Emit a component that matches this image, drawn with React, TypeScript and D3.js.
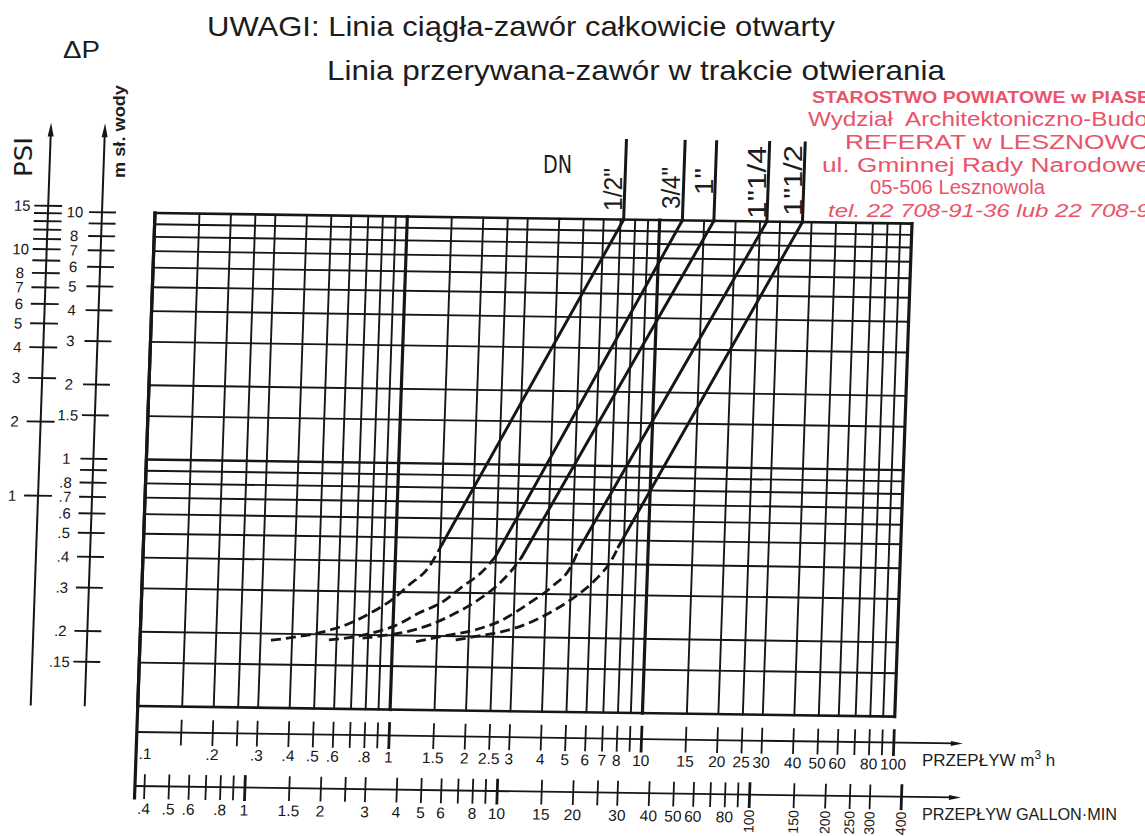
import React from "react";
import * as d3 from "d3";

// the sheet was scanned a little askew; the chart group is sheared to match
const SKEW_X = 0.035;
const SKEW_Y = 0.014;

// plot frame (unskewed coordinates)
const L = 155;
const R = 912;
const T = 213;
const B = 706;

const PSI_TO_M = 0.70307; // 1 psi in m of water
const GAL_TO_M3H = 0.2728; // 1 imperial gallon/min in m3/h

// vertical grid, m3/h
const gridFlow = [
  0.1, 0.15, 0.2, 0.25, 0.3, 0.4, 0.5, 0.6, 0.7, 0.8, 0.9,
  1, 1.5, 2, 2.5, 3, 4, 5, 6, 7, 8, 9,
  10, 15, 20, 25, 30, 40, 50, 60, 70, 80, 90, 100,
];
const boldFlow = [0.1, 1, 10, 100];
// horizontal grid, m sł. wody
const gridHead = [10, 9, 8, 7, 6, 5, 4, 3, 2, 1.5, 1, 0.9, 0.8, 0.7, 0.6, 0.5, 0.4, 0.3, 0.2, 0.15, 0.1];

const m3hLabels = [0.1, 0.2, 0.3, 0.4, 0.5, 0.6, 0.8, 1, 1.5, 2, 2.5, 3, 4, 5, 6, 7, 8, 10, 15, 20, 25, 30, 40, 50, 60, 80, 100];
const gpmTicks = [
  0.4, 0.5, 0.6, 0.7, 0.8, 0.9, 1, 1.5, 2, 2.5, 3, 4, 5, 6, 7, 8, 9,
  10, 15, 20, 25, 30, 40, 50, 60, 70, 80, 90, 100, 150, 200, 250, 300, 400,
];
const gpmBold = [1, 10, 100, 400];
const gpmLabels = [0.4, 0.5, 0.6, 0.8, 1, 1.5, 2, 3, 4, 5, 6, 8, 10, 15, 20, 30, 40, 50, 60, 80];
const gpmLabelsRot = [100, 150, 200, 250, 300, 400];

const psiTicks = [15, 14, 13, 12, 11, 10, 9, 8, 7, 6, 5, 4, 3, 2, 1];
const psiLabels = [15, 10, 8, 7, 6, 5, 4, 3, 2, 1];
const headTicks = [10, 9, 8, 7, 6, 5, 4, 3, 2, 1.5, 1, 0.9, 0.8, 0.7, 0.6, 0.5, 0.4, 0.3, 0.2, 0.15];
const headLabels = [10, 8, 7, 6, 5, 4, 3, 2, 1.5, 1, 0.8, 0.7, 0.6, 0.5, 0.4, 0.3, 0.2, 0.15];

// DN series: [m3/h, m sł. wody]
const dnNames = ['1/2"', '3/4"', '1"', '1"1/4', '1"1/2'];
const solid12 = [[1.53, 0.475], [7.2, 10]];
const solid34 = [[2.49, 0.423], [12.3, 10]];
const solid1 = [[3.17, 0.424], [16.4, 10]];
const solid114 = [[5.3, 0.455], [26.6, 10]];
const solid112 = [[7.62, 0.471], [36.8, 10]];

const dash12 = [[0.33, 0.188], [0.42, 0.195], [0.48, 0.2], [0.56, 0.208], [0.67, 0.222], [0.83, 0.249], [1.0, 0.283], [1.14, 0.32], [1.36, 0.38], [1.53, 0.475]];
const dash34 = [[0.56, 0.19], [0.72, 0.197], [0.86, 0.206], [1.03, 0.22], [1.26, 0.247], [1.56, 0.275], [1.86, 0.318], [2.22, 0.367], [2.49, 0.423]];
const dash1 = [[0.76, 0.194], [0.94, 0.2], [1.13, 0.207], [1.39, 0.221], [1.71, 0.244], [2.11, 0.277], [2.52, 0.319], [2.91, 0.374], [3.17, 0.424]];
const dash114 = [[1.24, 0.189], [1.67, 0.202], [2.13, 0.213], [2.7, 0.234], [3.42, 0.274], [4.21, 0.322], [5.01, 0.395], [5.3, 0.455]];
const dash112 = [[1.78, 0.193], [2.13, 0.2], [2.71, 0.21], [3.44, 0.228], [4.24, 0.255], [5.22, 0.294], [6.23, 0.344], [7.19, 0.416], [7.62, 0.471]];

const solids = [solid12, solid34, solid1, solid114, solid112];
const dashes = [dash12, dash34, dash1, dash114, dash112];

// where the rotated DN labels sit (page coordinates)
const dnLabelPos = [
  { cx: 613, bottom: 211, len: 43 },
  { cx: 671, bottom: 209, len: 42 },
  { cx: 704, bottom: 195, len: 27 },
  { cx: 757, bottom: 219, len: 73 },
  { cx: 793, bottom: 216, len: 71 },
];

// stamp lines, as far as they are visible on the sheet
const stampLines = [
  "STAROSTWO POWIATOWE w PIASE",
  "Wydział  Architektoniczno-Budo",
  "REFERAT w LESZNOWO",
  "ul. Gminnej Rady Narodowe",
  "05-506 Lesznowola",
  "tel. 22 708-91-36 lub 22 708-9",
];
const stampStyle = [
  { x: 812, y: 103, size: 16, len: 338, bold: true, italic: false },
  { x: 808, y: 126, size: 20, len: 340, bold: false, italic: false },
  { x: 845, y: 149, size: 21, len: 305, bold: false, italic: false },
  { x: 822, y: 172, size: 20, len: 328, bold: false, italic: false },
  { x: 870, y: 194, size: 20, len: 175, bold: false, italic: false },
  { x: 828, y: 217, size: 19, len: 322, bold: false, italic: true },
];

const FONT = "'Liberation Sans', Arial, Helvetica, sans-serif";
const NARROW = "'Liberation Sans Narrow', 'DejaVu Sans Condensed', 'Liberation Sans', sans-serif";
const INK = "#161616";
const STAMP = "#e8415a";

const fmt = (v: number) => (v < 1 ? String(v).slice(1) : String(v));

export default function App() {
  const x = d3.scaleLog().domain([0.1, 100]).range([L, R]);
  const y = d3.scaleLog().domain([0.1, 10]).range([B, T]);

  const straight = d3
    .line<number[]>()
    .x((d) => x(d[0]))
    .y((d) => y(d[1]));
  const curved = d3
    .line<number[]>()
    .x((d) => x(d[0]))
    .y((d) => y(d[1]))
    .curve(d3.curveMonotoneX);

  const skew = `matrix(1 ${SKEW_Y} ${-SKEW_X} 1 ${SKEW_X * T} ${-SKEW_Y * L})`;

  const psiX = 48;
  const headX = 102;
  const m3hY = 732;
  const gpmY = 786;
  const axisEnd = 981;

  return (
    <svg
      width={1145}
      height={836}
      style={{ position: "absolute", left: 0, top: 0, background: "#fff" }}
      fontFamily={FONT}
    >
      <rect width={1145} height={836} fill="#fff" />

      <g transform={skew} stroke={INK} fill="none" strokeLinecap="square">
        {/* grid */}
        {gridFlow.map((q) => (
          <line
            key={"v" + q}
            x1={x(q)}
            x2={x(q)}
            y1={T}
            y2={B}
            strokeWidth={boldFlow.includes(q) ? 3.2 : 1.9}
          />
        ))}
        {gridHead.map((h) => (
          <line
            key={"h" + h}
            x1={L}
            x2={R}
            y1={y(h)}
            y2={y(h)}
            strokeWidth={h === 10 || h === 0.1 ? 2.6 : h === 1 ? 2.4 : 1.9}
          />
        ))}
        <line x1={L} x2={L} y1={T} y2={798} strokeWidth={3.2} />

        {/* DN leader lines above the grid */}
        {solids.map((s, i) => (
          <line
            key={"dn" + i}
            x1={x(s[1][0])}
            x2={x(s[1][0])}
            y1={y(10)}
            y2={134}
            strokeWidth={3}
          />
        ))}

        {/* fully open (solid) and opening (dashed) */}
        {solids.map((s, i) => (
          <path key={"s" + i} d={straight(s) || ""} strokeWidth={3} />
        ))}
        {dashes.map((s, i) => (
          <path
            key={"d" + i}
            d={curved(s) || ""}
            strokeWidth={2.8}
            strokeDasharray="10 5"
            strokeLinecap="butt"
          />
        ))}

        {/* PSI axis */}
        <line x1={psiX} x2={psiX} y1={B} y2={134} strokeWidth={2} />
        <path d={`M${psiX},124 L${psiX - 3},138 L${psiX + 3},138 Z`} fill={INK} stroke="none" />
        {psiTicks.map((p) => (
          <line
            key={"pt" + p}
            x1={psiX - 13}
            x2={psiX + 13}
            y1={y(p * PSI_TO_M)}
            y2={y(p * PSI_TO_M)}
            strokeWidth={1.9}
          />
        ))}
        <g fill={INK} stroke="none" fontSize={15} textAnchor="middle">
          {psiLabels.map((p) => (
            <text key={"pl" + p} x={22} y={y(p * PSI_TO_M)} dy="0.36em">
              {p}
            </text>
          ))}
        </g>

        {/* m sł. wody axis */}
        <line x1={headX} x2={headX} y1={B} y2={134} strokeWidth={2} />
        <path d={`M${headX},124 L${headX - 3},138 L${headX + 3},138 Z`} fill={INK} stroke="none" />
        {headTicks.map((h) => (
          <line
            key={"ht" + h}
            x1={headX - 12}
            x2={headX + 13}
            y1={y(h)}
            y2={y(h)}
            strokeWidth={1.9}
          />
        ))}
        <g fill={INK} stroke="none" fontSize={15} textAnchor="middle">
          {headLabels.map((h) => (
            <text key={"hl" + h} x={75} y={y(h)} dy="0.36em">
              {fmt(h)}
            </text>
          ))}
        </g>

        {/* m3/h axis */}
        <line x1={L} x2={axisEnd - 8} y1={m3hY} y2={m3hY} strokeWidth={1.8} />
        <path d={`M${axisEnd},${m3hY} L${axisEnd - 12},${m3hY - 2.5} L${axisEnd - 12},${m3hY + 2.5} Z`} fill={INK} stroke="none" />
        {gridFlow.slice(1).map((q) => (
          <line
            key={"mt" + q}
            x1={x(q)}
            x2={x(q)}
            y1={m3hY - 12}
            y2={m3hY + 12}
            strokeWidth={boldFlow.includes(q) ? 2.8 : 1.8}
          />
        ))}
        <g fill={INK} stroke="none" fontSize={15.5} textAnchor="middle">
          {m3hLabels.map((q) => (
            <text key={"ml" + q} x={x(q) + (q === 0.1 ? 9 : 0)} y={759}>
              {fmt(q)}
            </text>
          ))}
        </g>

        {/* gallon/min axis */}
        <line x1={L} x2={axisEnd - 8} y1={gpmY} y2={gpmY} strokeWidth={1.8} />
        <path d={`M${axisEnd},${gpmY} L${axisEnd - 12},${gpmY - 2.5} L${axisEnd - 12},${gpmY + 2.5} Z`} fill={INK} stroke="none" />
        {gpmTicks.map((g) => (
          <line
            key={"gt" + g}
            x1={x(g * GAL_TO_M3H)}
            x2={x(g * GAL_TO_M3H)}
            y1={gpmY - 11}
            y2={gpmY + 12}
            strokeWidth={gpmBold.includes(g) ? 2.8 : 1.8}
          />
        ))}
        <g fill={INK} stroke="none" fontSize={15.5}>
          {gpmLabels.map((g) => (
            <text key={"gl" + g} x={x(g * GAL_TO_M3H)} y={814} textAnchor="middle">
              {fmt(g)}
            </text>
          ))}
          {gpmLabelsRot.map((g) => {
            const gx = x(g * GAL_TO_M3H);
            return (
              <text
                key={"gr" + g}
                transform={`translate(${gx + 5},801) rotate(-90)`}
                textAnchor="end"
                fontSize={14}
              >
                {g}
              </text>
            );
          })}
        </g>
      </g>

      {/* headings and axis titles */}
      <g fill="#1c1c1c">
        <text x={207} y={36} fontSize={28} textLength={628} lengthAdjust="spacingAndGlyphs">
          UWAGI: Linia ciągła-zawór całkowicie otwarty
        </text>
        <text x={327} y={80} fontSize={28} textLength={618} lengthAdjust="spacingAndGlyphs">
          Linia przerywana-zawór w trakcie otwierania
        </text>
        <text x={63} y={58} fontSize={24} textLength={37} lengthAdjust="spacingAndGlyphs">
          ΔP
        </text>
        <text
          transform="translate(32,177) rotate(-90)"
          fontSize={25}
          fontFamily={NARROW}
          textLength={40}
          lengthAdjust="spacingAndGlyphs"
        >
          PSI
        </text>
        <text
          transform="translate(125,178) rotate(-90)"
          fontSize={17}
          fontWeight="bold"
          textLength={93}
          lengthAdjust="spacingAndGlyphs"
        >
          m sł. wody
        </text>
        <text x={543} y={173} fontSize={24} fontFamily={NARROW} textLength={29} lengthAdjust="spacingAndGlyphs">
          DN
        </text>
        {dnNames.map((n, i) => {
          const p = dnLabelPos[i];
          return (
            <text
              key={n}
              transform={`translate(${p.cx + 9},${p.bottom}) rotate(-90)`}
              fontSize={26}
              textLength={p.len}
              lengthAdjust="spacingAndGlyphs"
            >
              {n}
            </text>
          );
        })}
        <text x={922} y={766} fontSize={17}>
          PRZEPŁYW m
          <tspan fontSize={12} dy={-7}>
            3
          </tspan>
          <tspan dy={7}> h</tspan>
        </text>
        <text x={922} y={820} fontSize={16} textLength={195} lengthAdjust="spacingAndGlyphs">
          PRZEPŁYW GALLON·MIN
        </text>
      </g>

      {/* red office stamp */}
      <g fill={STAMP} opacity={0.9}>
        {stampLines.map((t, i) => {
          const s = stampStyle[i];
          return (
            <text
              key={t}
              x={s.x}
              y={s.y}
              fontSize={s.size}
              fontWeight={s.bold ? "bold" : "normal"}
              fontStyle={s.italic ? "italic" : "normal"}
              textLength={s.len}
              lengthAdjust="spacingAndGlyphs"
              style={{ whiteSpace: "pre" }}
            >
              {t}
            </text>
          );
        })}
      </g>
    </svg>
  );
}
